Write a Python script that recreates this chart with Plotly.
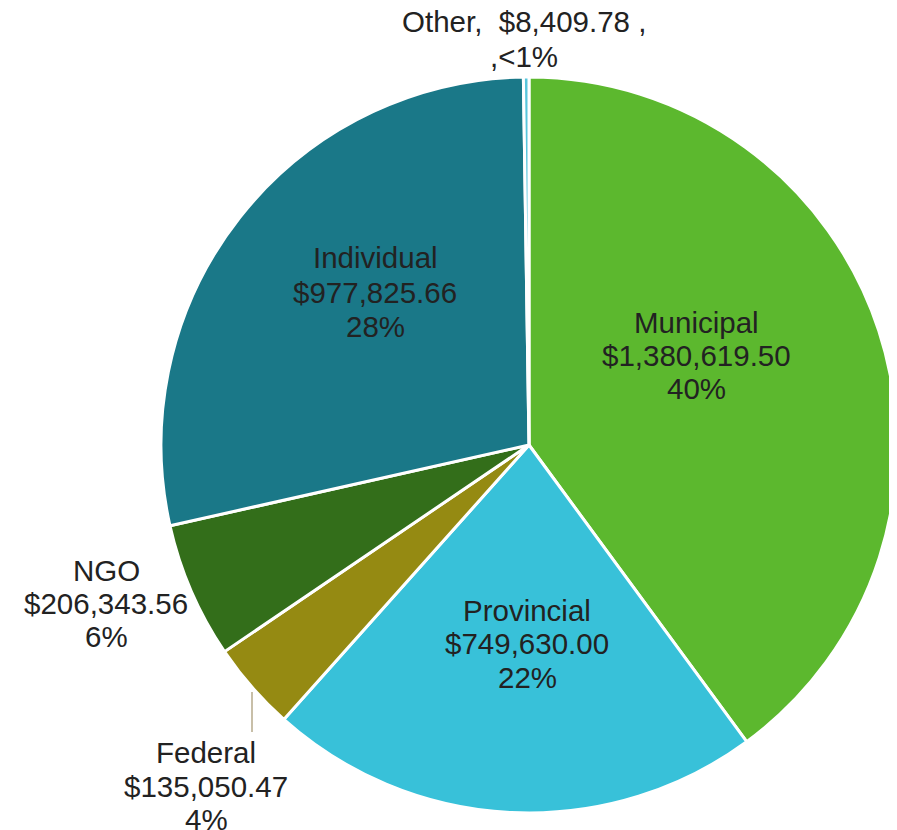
import plotly.graph_objects as go

categories = ["Municipal", "Provincial", "Federal", "NGO", "Individual", "Other"]
amounts = [1380619.50, 749630.00, 135050.47, 206343.56, 977825.66, 8409.78]
pct_labels = ["40%", "22%", "4%", "6%", "28%", "<1%"]
colors = ["#5cb82e", "#38c1d9", "#958a12", "#336e1a", "#1a7888", "#58c6dc"]

# page has an 8px body margin; figure fills the rest of the window
OFF = 8
W, H = 897 - OFF, 830 - OFF

def px(x):
    return (x - OFF) / W

def py(y):
    return 1 - (y - OFF) / H

fig = go.Figure(go.Pie(
    labels=categories,
    values=amounts,
    sort=False,
    direction="clockwise",
    rotation=0,
    marker=dict(colors=colors, line=dict(color="white", width=3)),
    textinfo="none",
    hoverinfo="label+value+percent",
    domain=dict(x=[px(161), 1.0], y=[py(815), py(75)]),
    showlegend=False,
))

# label line positions in window pixels (x center, y centers)
label_pos = {
    "Municipal": (696, [322, 356, 389]),
    "Provincial": (527, [610, 643, 677]),
    "Federal": (206, [752, 786, 819]),
    "NGO": (106, [570, 603, 636]),
    "Individual": (375, [258, 292, 326]),
    "Other": (524, [22, 57]),
}

annotations = []
for cat, amt, pct in zip(categories, amounts, pct_labels):
    x, ys = label_pos[cat]
    if cat == "Other":
        lines = [f"{cat},\u00a0\u00a0${amt:,.2f} ,", f",{pct}"]
    else:
        lines = [cat, f"${amt:,.2f}", pct]
    for line, y in zip(lines, ys):
        annotations.append(dict(
            text=line, x=px(x), y=py(y), xref="paper", yref="paper",
            xanchor="center", yanchor="middle", showarrow=False,
            font=dict(family="Liberation Sans, Arial, sans-serif", size=29.5, color="#222222"),
        ))

fig.update_layout(
    width=W, height=H,
    margin=dict(l=0, r=0, t=0, b=0),
    paper_bgcolor="white",
    plot_bgcolor="white",
    annotations=annotations,
    shapes=[dict(type="line", xref="paper", yref="paper",
                 x0=px(252), x1=px(252), y0=py(692), y1=py(732),
                 line=dict(color="#c8bfa8", width=2))],
)

fig.write_html("out.html")
